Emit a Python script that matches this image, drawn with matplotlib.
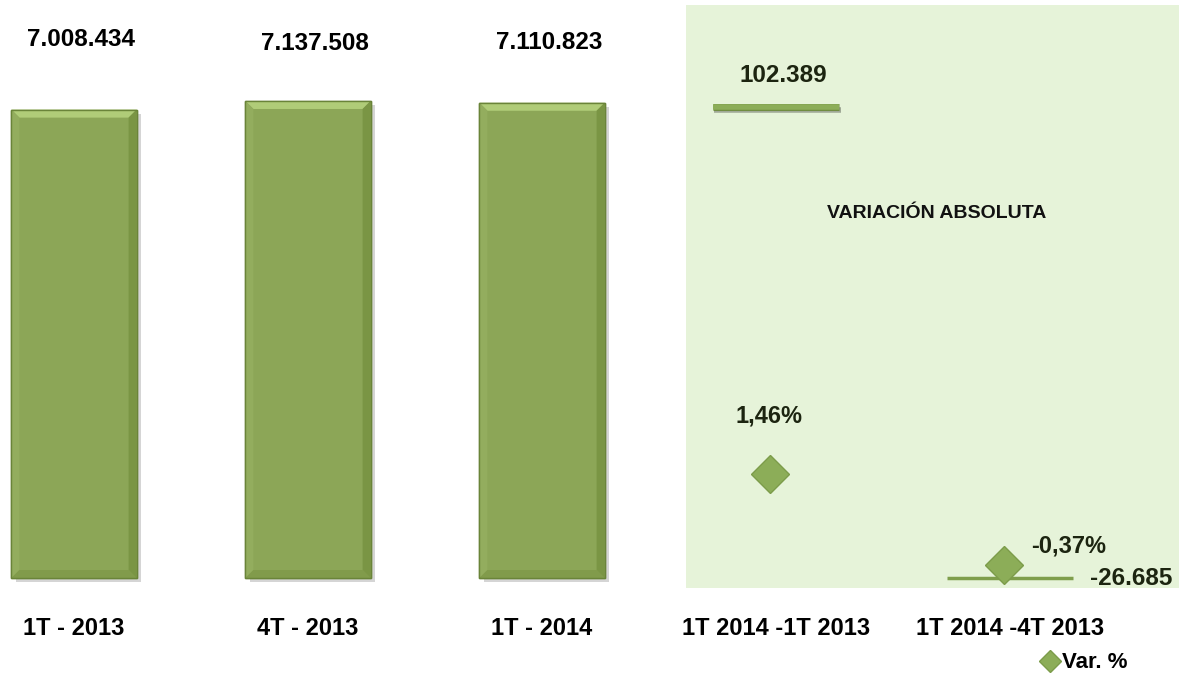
import numpy as np
import matplotlib
matplotlib.use("Agg")
import matplotlib.pyplot as plt
from matplotlib.patches import Polygon
from matplotlib.lines import Line2D
import matplotlib.patheffects as pe

# ---- data -------------------------------------------------------------
categories = ["1T - 2013", "4T - 2013", "1T - 2014", "1T 2014 -1T 2013", "1T 2014 -4T 2013"]
totals = [7008434, 7137508, 7110823]
total_labels = ["7.008.434", "7.137.508", "7.110.823"]
abs_variation = [102389, -26685]
abs_labels = ["102.389", "-26.685"]
pct_variation = [1.46, -0.37]
pct_labels = ["1,46%", "-0,37%"]

plt.rcParams["font.family"] = ["Liberation Sans", "DejaVu Sans"]
plt.rcParams["font.weight"] = "bold"

BAR = "#8ca657"
BAR_EDGE = "#6a8439"
PANEL = "#e6f3d9"
TXT = "#1c2410"

fig = plt.figure(figsize=(11.79, 6.77), dpi=100)
ax = fig.add_axes([0, 89 / 677, 1, 583 / 677])
ax.set_xlim(-74 / 234, (1179 - 74) / 234)
ax.set_ylim(-149630, 8573800)

for s in ax.spines.values():
    s.set_visible(False)
ax.set_yticks([])
ax.set_xticks(range(len(categories)), categories, fontsize=17, fontweight="bold")
ax.tick_params(axis="x", length=0, pad=21)

# shaded panel behind the variation columns
ax.axvspan(2.615, ax.get_xlim()[1], color=PANEL, zorder=0, lw=0)

# ---- quarterly totals ---------------------------------------------------
bar_x = np.arange(len(totals))
width = 0.535
bars = ax.bar(bar_x, totals, width=width, color=BAR, edgecolor=BAR_EDGE, lw=1.0, zorder=2,
              path_effects=[pe.SimplePatchShadow(offset=(3, -3), shadow_rgbFace="#888888", alpha=0.35),
                            pe.Normal()])

# bevel highlights drawn from each bar's own geometry
fig.canvas.draw()
inv = ax.transData.inverted()
for b in bars:
    x0, y0 = b.get_x(), b.get_y()
    x1, y1 = x0 + b.get_width(), y0 + b.get_height()
    (px0, py0) = ax.transData.transform((x0, y0))
    (px1, py1) = ax.transData.transform((x1, y1))
    bv = 8

    def d(px, py):
        return inv.transform((px, py))

    top = [d(px0, py1), d(px1, py1), d(px1 - bv, py1 - bv), d(px0 + bv, py1 - bv)]
    right = [d(px1, py1), d(px1, py0), d(px1 - bv, py0 + bv), d(px1 - bv, py1 - bv)]
    left = [d(px0, py1), d(px0 + bv, py1 - bv), d(px0 + bv, py0 + bv), d(px0, py0)]
    bottom = [d(px0, py0), d(px0 + bv, py0 + bv), d(px1 - bv, py0 + bv), d(px1, py0)]
    for poly, col in [(top, "#b0cc78"), (right, "#7a9544"), (left, "#93ad5e"), (bottom, "#819b4b")]:
        ax.add_patch(Polygon(poly, closed=True, facecolor=col, edgecolor="none", zorder=2.5))
    ax.add_patch(Polygon([d(px0, py0), d(px0, py1), d(px1, py1), d(px1, py0)], closed=True,
                         facecolor="none", edgecolor=BAR_EDGE, lw=1.0, zorder=2.6))

label_rise = [70, 57, 60]
for xi, v, lab, rise in zip(bar_x, totals, total_labels, label_rise):
    ax.annotate(lab, (xi, v), xytext=(5, rise * 0.72), textcoords="offset points",
                ha="center", va="center", fontsize=17.5, fontweight="bold", color="black")

ax.text(3.688, (588 - 214) / 583, "VARIACIÓN ABSOLUTA", transform=ax.get_xaxis_transform(),
        ha="center", va="center", fontsize=14, fontweight="bold", color="#111111")

# ---- absolute variation (secondary scale) ---------------------------------
var_x = np.array([3, 4])
ax2 = ax.twinx()
ax2.set_ylim(-29425, 130341)
ax3 = ax.twinx()
ax3.set_ylim(-0.8325, 10.892)
for a in (ax2, ax3):
    a.set_position(ax.get_position())
    a.set_yticks([])
    for s in a.spines.values():
        s.set_visible(False)

half = 0.27
ax2.hlines(abs_variation[0], var_x[0] - half, var_x[0] + half, colors="#8cad58", lw=4,
           path_effects=[pe.SimpleLineShadow(offset=(1, -2), alpha=0.3),
                         pe.Stroke(linewidth=5, foreground="#6f8c3f"), pe.Normal()])
ax2.hlines(abs_variation[1], var_x[1] - half, var_x[1] + half, colors="#7f9e4c", lw=2.5)

ax2.annotate(abs_labels[0], (var_x[0], abs_variation[0]), xytext=(5, 23), textcoords="offset points",
             ha="center", va="center", fontsize=17.5, fontweight="bold", color=TXT)
ax2.annotate(abs_labels[1], (var_x[1], abs_variation[1]), xytext=(87, 0), textcoords="offset points",
             ha="center", va="center", fontsize=17.5, fontweight="bold", color=TXT)

# ---- percentage variation (third scale) ----------------------------------
diam, = ax3.plot(var_x - 0.025, pct_variation, ls="none", marker="D", ms=19.5,
                 mfc="#8cad58", mec="#7c9c4a", mew=1, zorder=5)
ax3.annotate(pct_labels[0], (var_x[0], pct_variation[0]), xytext=(-5, 42), textcoords="offset points",
             ha="center", va="center", fontsize=17, fontweight="bold", color=TXT)
ax3.annotate(pct_labels[1], (var_x[1], pct_variation[1]), xytext=(42, 14), textcoords="offset points",
             ha="center", va="center", fontsize=17, fontweight="bold", color=TXT)

fig.legend(handles=[Line2D([], [], ls="none", marker="D", ms=11, mfc="#8cad58", mec="#7c9c4a")],
           labels=["Var. %"], loc="center", bbox_to_anchor=(1083 / 1179, 1 - 663 / 677),
           frameon=False, handletextpad=0.05, handlelength=1.0,
           prop={"size": 16, "weight": "bold"})

fig.savefig("out.png", dpi=100)
